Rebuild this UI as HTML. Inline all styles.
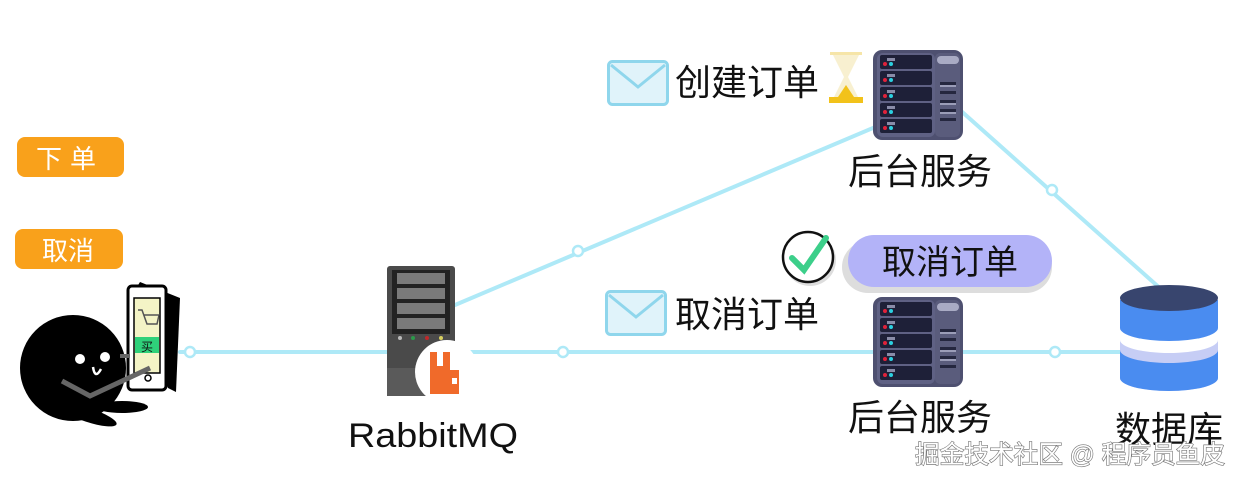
<!DOCTYPE html>
<html><head><meta charset="utf-8"><style>
html,body{margin:0;padding:0;background:#fff;width:1242px;height:484px;overflow:hidden}
svg{display:block}
.t{font-family:"Liberation Sans","Noto Sans CJK SC",sans-serif;fill:#111}
</style></head><body>
<svg width="1242" height="484" viewBox="0 0 1242 484" xmlns="http://www.w3.org/2000/svg">
<defs>
<g id="srv">
<rect x="0" y="0" width="90" height="90" rx="9" fill="#4e5070"/>
<rect x="4" y="3" width="58" height="84" rx="6" fill="#5f6184"/>
<g fill="#1e2038">
<rect x="7" y="5" width="52" height="14" rx="2"/>
<rect x="7" y="21" width="52" height="14" rx="2"/>
<rect x="7" y="37" width="52" height="14" rx="2"/>
<rect x="7" y="53" width="52" height="14" rx="2"/>
<rect x="7" y="69" width="52" height="14" rx="2"/>
</g>
<g fill="#e0223a"><circle cx="12" cy="14" r="2"/><circle cx="12" cy="30" r="2"/><circle cx="12" cy="46" r="2"/><circle cx="12" cy="62" r="2"/><circle cx="12" cy="78" r="2"/></g>
<g fill="#2bd0e0"><circle cx="18" cy="14" r="2"/><circle cx="18" cy="30" r="2"/><circle cx="18" cy="46" r="2"/><circle cx="18" cy="62" r="2"/><circle cx="18" cy="78" r="2"/></g>
<g fill="#8a8ca8"><rect x="14" y="8" width="8" height="3"/><rect x="14" y="24" width="8" height="3"/><rect x="14" y="40" width="8" height="3"/><rect x="14" y="56" width="8" height="3"/><rect x="14" y="72" width="8" height="3"/></g>
<rect x="62" y="3" width="25" height="84" rx="5" fill="#5a5c7c"/>
<rect x="64" y="6" width="22" height="8" rx="4" fill="#a9abc4"/>
<g fill="#25273f"><rect x="67" y="32" width="16" height="3"/><rect x="67" y="41" width="16" height="3"/><rect x="67" y="50" width="16" height="3"/><rect x="67" y="59" width="16" height="3"/><rect x="67" y="68" width="16" height="3"/></g>
<g fill="#9b9db8"><rect x="67" y="35" width="16" height="2"/><rect x="67" y="53" width="16" height="2"/><rect x="67" y="62" width="16" height="2"/></g>
</g>
<g id="env">
<rect x="1.5" y="1.5" width="59" height="43" rx="4" fill="#e0f3fa" stroke="#8fd6ec" stroke-width="3"/>
<path d="M4 5 L31 27 L58 5" fill="none" stroke="#8fd6ec" stroke-width="3"/>
</g>
</defs>

<g stroke="#aee9f7" stroke-width="4" fill="none" stroke-linecap="round">
<line x1="180" y1="352" x2="392" y2="352"/>
<line x1="470" y1="352" x2="1125" y2="352"/>
<line x1="455" y1="305" x2="880" y2="125"/>
<line x1="960" y1="110" x2="1162" y2="290"/>
</g>
<g fill="#fff" stroke="#aee9f7" stroke-width="2.5">
<circle cx="190" cy="352" r="5"/><circle cx="563" cy="352" r="5"/><circle cx="1055" cy="352" r="5"/>
<circle cx="578" cy="251" r="5"/><circle cx="1052" cy="190" r="5"/>
</g>

<rect x="17" y="137" width="107" height="40" rx="8" fill="#f9a11b"/>
<text x="70" y="168" text-anchor="middle" class="t" style="fill:#fff;font-size:26px" letter-spacing="8">下单</text>
<rect x="15" y="229" width="108" height="40" rx="8" fill="#f9a11b"/>
<text x="68" y="260" text-anchor="middle" class="t" style="fill:#fff;font-size:26px">取消</text>

<g>
<ellipse cx="88" cy="415" rx="30" ry="7" transform="rotate(18 88 415)" fill="#000"/>
<ellipse cx="122" cy="407" rx="26" ry="6" fill="#000"/>
<circle cx="73" cy="368" r="53" fill="#000"/>
<circle cx="80" cy="359" r="5" fill="#fff"/><circle cx="105" cy="357" r="5" fill="#fff"/>
<path d="M93 367 q2 13 8 2" stroke="#fff" stroke-width="2.5" fill="none"/>
<polygon points="135,290 140,282 180,298 176,392 168,388" fill="#000"/>
<rect x="128" y="286" width="38" height="104" rx="4" fill="#fff" stroke="#000" stroke-width="3"/>
<rect x="134" y="298" width="26" height="75" fill="#f4f4c6" stroke="#000" stroke-width="1.5"/>
<rect x="135" y="337" width="24" height="16" fill="#2fd17a"/>
<text x="147" y="351" text-anchor="middle" class="t" style="font-size:12px">买</text>
<path d="M138 310 l4 0 l5 14 l10 0 l2 -9 l-15 0" stroke="#555" stroke-width="1.5" fill="none"/>
<circle cx="148" cy="378" r="3" fill="none" stroke="#000" stroke-width="1.5"/>
<path d="M62 381 L90 396 L150 368" stroke="#666" stroke-width="5" fill="none"/>
<line x1="120" y1="356" x2="130" y2="356" stroke="#666" stroke-width="4"/>
</g>

<rect x="387" y="266" width="68" height="130" rx="3" fill="#4a4a4a"/>
<rect x="392" y="270" width="58" height="64" fill="#222"/>
<g fill="#7a7a7a"><rect x="397" y="273" width="48" height="11"/><rect x="397" y="288" width="48" height="11"/><rect x="397" y="303" width="48" height="11"/><rect x="397" y="318" width="48" height="11"/></g>
<circle cx="400" cy="338" r="2" fill="#bbb"/><circle cx="413" cy="338" r="2" fill="#2b9a4a"/><circle cx="427" cy="338" r="2" fill="#c0282a"/><circle cx="441" cy="338" r="2" fill="#d8d060"/>
<rect x="387" y="368" width="68" height="28" fill="#5a5a5a"/>
<circle cx="447" cy="372" r="32" fill="#fff"/>
<path d="M430 352 h7 v14 h6 v-14 h7 v18 h9 v24 h-29 z" fill="#f06a2a"/>
<rect x="452" y="378" width="5" height="6" fill="#fff"/>
<text x="348" y="447" class="t" style="font-size:34px" textLength="170" lengthAdjust="spacingAndGlyphs">RabbitMQ</text>

<use href="#env" x="607" y="60"/>
<text x="675" y="95" class="t" style="font-size:36px">创建订单</text>
<g>
<rect x="830" y="52" width="32" height="3" fill="#f6e5a8"/>
<path d="M833 55 h26 l-11 22 l11 22 h-26 l11 -22 z" fill="#f8f0d0"/>
<path d="M838 97 l8 -12 l8 12 z" fill="#f2c21a"/>
<rect x="829" y="97" width="34" height="6" fill="#f2c21a"/>
</g>
<use href="#srv" x="873" y="50"/>
<text x="848" y="184" class="t" style="font-size:36px">后台服务</text>

<circle cx="810" cy="260" r="26" fill="#ddd"/>
<circle cx="808" cy="257" r="25" fill="#fff" stroke="#111" stroke-width="2.5"/>
<path d="M792 258 l12 12 l22 -32" stroke="#3ccf8a" stroke-width="6" fill="none" stroke-linecap="round"/>
<rect x="842" y="241" width="210" height="52" rx="26" fill="#ddd"/>
<rect x="848" y="235" width="204" height="52" rx="26" fill="#b3b3f8"/>
<text x="950" y="274" text-anchor="middle" class="t" style="font-size:34px">取消订单</text>
<use href="#env" x="605" y="290"/>
<text x="675" y="327" class="t" style="font-size:36px">取消订单</text>
<use href="#srv" x="873" y="297"/>
<text x="848" y="430" class="t" style="font-size:36px">后台服务</text>

<path d="M1120 300 v28 a49 13 0 0 0 98 0 v-28 z" fill="#4a8cf0"/>
<path d="M1120 340 v38 a49 13 0 0 0 98 0 v-38 a49 13 0 0 1 -98 0 z" fill="#c6cdf5"/>
<path d="M1120 350 v28 a49 13 0 0 0 98 0 v-28 a49 13 0 0 1 -98 0 z" fill="#4a8cf0"/>
<ellipse cx="1169" cy="298" rx="49" ry="13" fill="#38456e"/>
<text x="1115" y="442" class="t" style="font-size:36px">数据库</text>

<text x="915" y="463" class="t" style="font-size:25px;fill:#fff;stroke:#777;stroke-width:1.3;paint-order:stroke" textLength="310" lengthAdjust="spacingAndGlyphs">掘金技术社区 @ 程序员鱼皮</text>
</svg>
</body></html>
